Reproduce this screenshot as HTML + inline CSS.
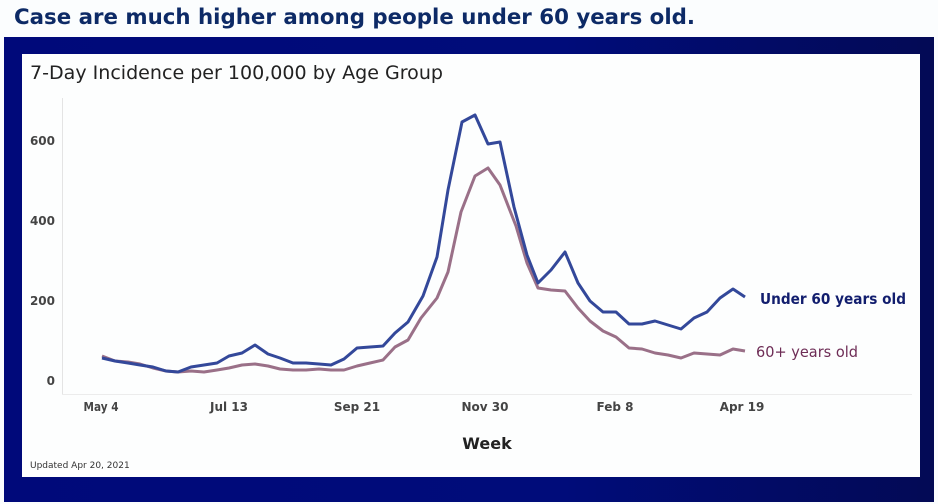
<!DOCTYPE html>
<html><head><style>
html,body{margin:0;padding:0;background:#fff;}
svg{display:block;}
text{font-family:"DejaVu Sans","Liberation Sans",sans-serif;}
</style></head><body>
<svg width="938" height="504" viewBox="0 0 938 504" xmlns="http://www.w3.org/2000/svg">
<defs>
<linearGradient id="g" x1="0" x2="1" y1="0" y2="0">
<stop offset="0" stop-color="#00097a"/><stop offset="0.6" stop-color="#000c7a"/><stop offset="1" stop-color="#030a55"/>
</linearGradient>
</defs>
<rect width="938" height="504" fill="#fbfdfe"/>
<text x="14" y="24" font-size="21" font-weight="bold" fill="#0d2a66" textLength="681" lengthAdjust="spacingAndGlyphs">Case are much higher among people under 60 years old.</text>
<rect x="4" y="37" width="930" height="465" fill="url(#g)"/>
<rect x="22" y="54" width="898" height="423" fill="#fdfefe"/>
<text x="30" y="79" font-size="19" fill="#222" textLength="413" lengthAdjust="spacingAndGlyphs">7-Day Incidence per 100,000 by Age Group</text>
<line x1="62.5" y1="98" x2="62.5" y2="394" stroke="#e4e4e4" stroke-width="1"/>
<line x1="62" y1="394.5" x2="912" y2="394.5" stroke="#ececec" stroke-width="1"/>
<g font-size="12" fill="#444" text-anchor="end" font-weight="bold">
<text x="55" y="145">600</text><text x="55" y="225">400</text><text x="55" y="305">200</text><text x="55" y="385">0</text>
</g>
<g font-size="12" fill="#444" text-anchor="middle" font-weight="bold">
<text x="101" y="411" textLength="35" lengthAdjust="spacingAndGlyphs">May 4</text><text x="229" y="411">Jul 13</text><text x="357" y="411">Sep 21</text><text x="485" y="411">Nov 30</text><text x="615" y="411">Feb 8</text><text x="742" y="411">Apr 19</text>
</g>
<text x="487" y="449" font-size="16" font-weight="bold" fill="#222" text-anchor="middle">Week</text>
<text x="30" y="468" font-size="9" fill="#333">Updated Apr 20, 2021</text>
<polyline fill="none" stroke="#9a7088" stroke-width="3" stroke-linejoin="round" points="102,356 115,361 128,362 140,364 153,368 166,371 178,372 191,371 204,372 217,370 229,368 242,365 255,364 268,366 280,369 293,370 306,370 319,369 331,370 344,370 357,366 370,363 383,360 395,347 408,340 421,318 437,298 448,272 461,212 475,176 488,168 500,185 516,226 527,263 538,288 551,290 565,291 578,308 590,321 603,331 616,337 629,348 642,349 655,353 668,355 681,358 694,353 707,354 720,355 733,349 745,351"/>
<polyline fill="none" stroke="#33489a" stroke-width="3" stroke-linejoin="round" points="102,358 115,361 128,363 140,365 153,367 166,371 178,372 191,367 204,365 217,363 229,356 242,353 255,345 268,354 280,358 293,363 306,363 319,364 331,365 344,359 357,348 370,347 383,346 395,333 408,322 423,296 437,257 448,190 462,122 475,115 488,144 500,142 514,207 527,255 538,283 551,270 565,252 578,283 590,301 603,312 616,312 629,324 642,324 655,321 668,325 681,329 694,318 707,312 720,298 733,289 745,297"/>
<text x="760" y="304" font-size="15" font-weight="bold" fill="#121e6e" textLength="146" lengthAdjust="spacingAndGlyphs">Under 60 years old</text>
<text x="756" y="357" font-size="15" fill="#6e2d56" textLength="102" lengthAdjust="spacingAndGlyphs">60+ years old</text>
</svg>
</body></html>
